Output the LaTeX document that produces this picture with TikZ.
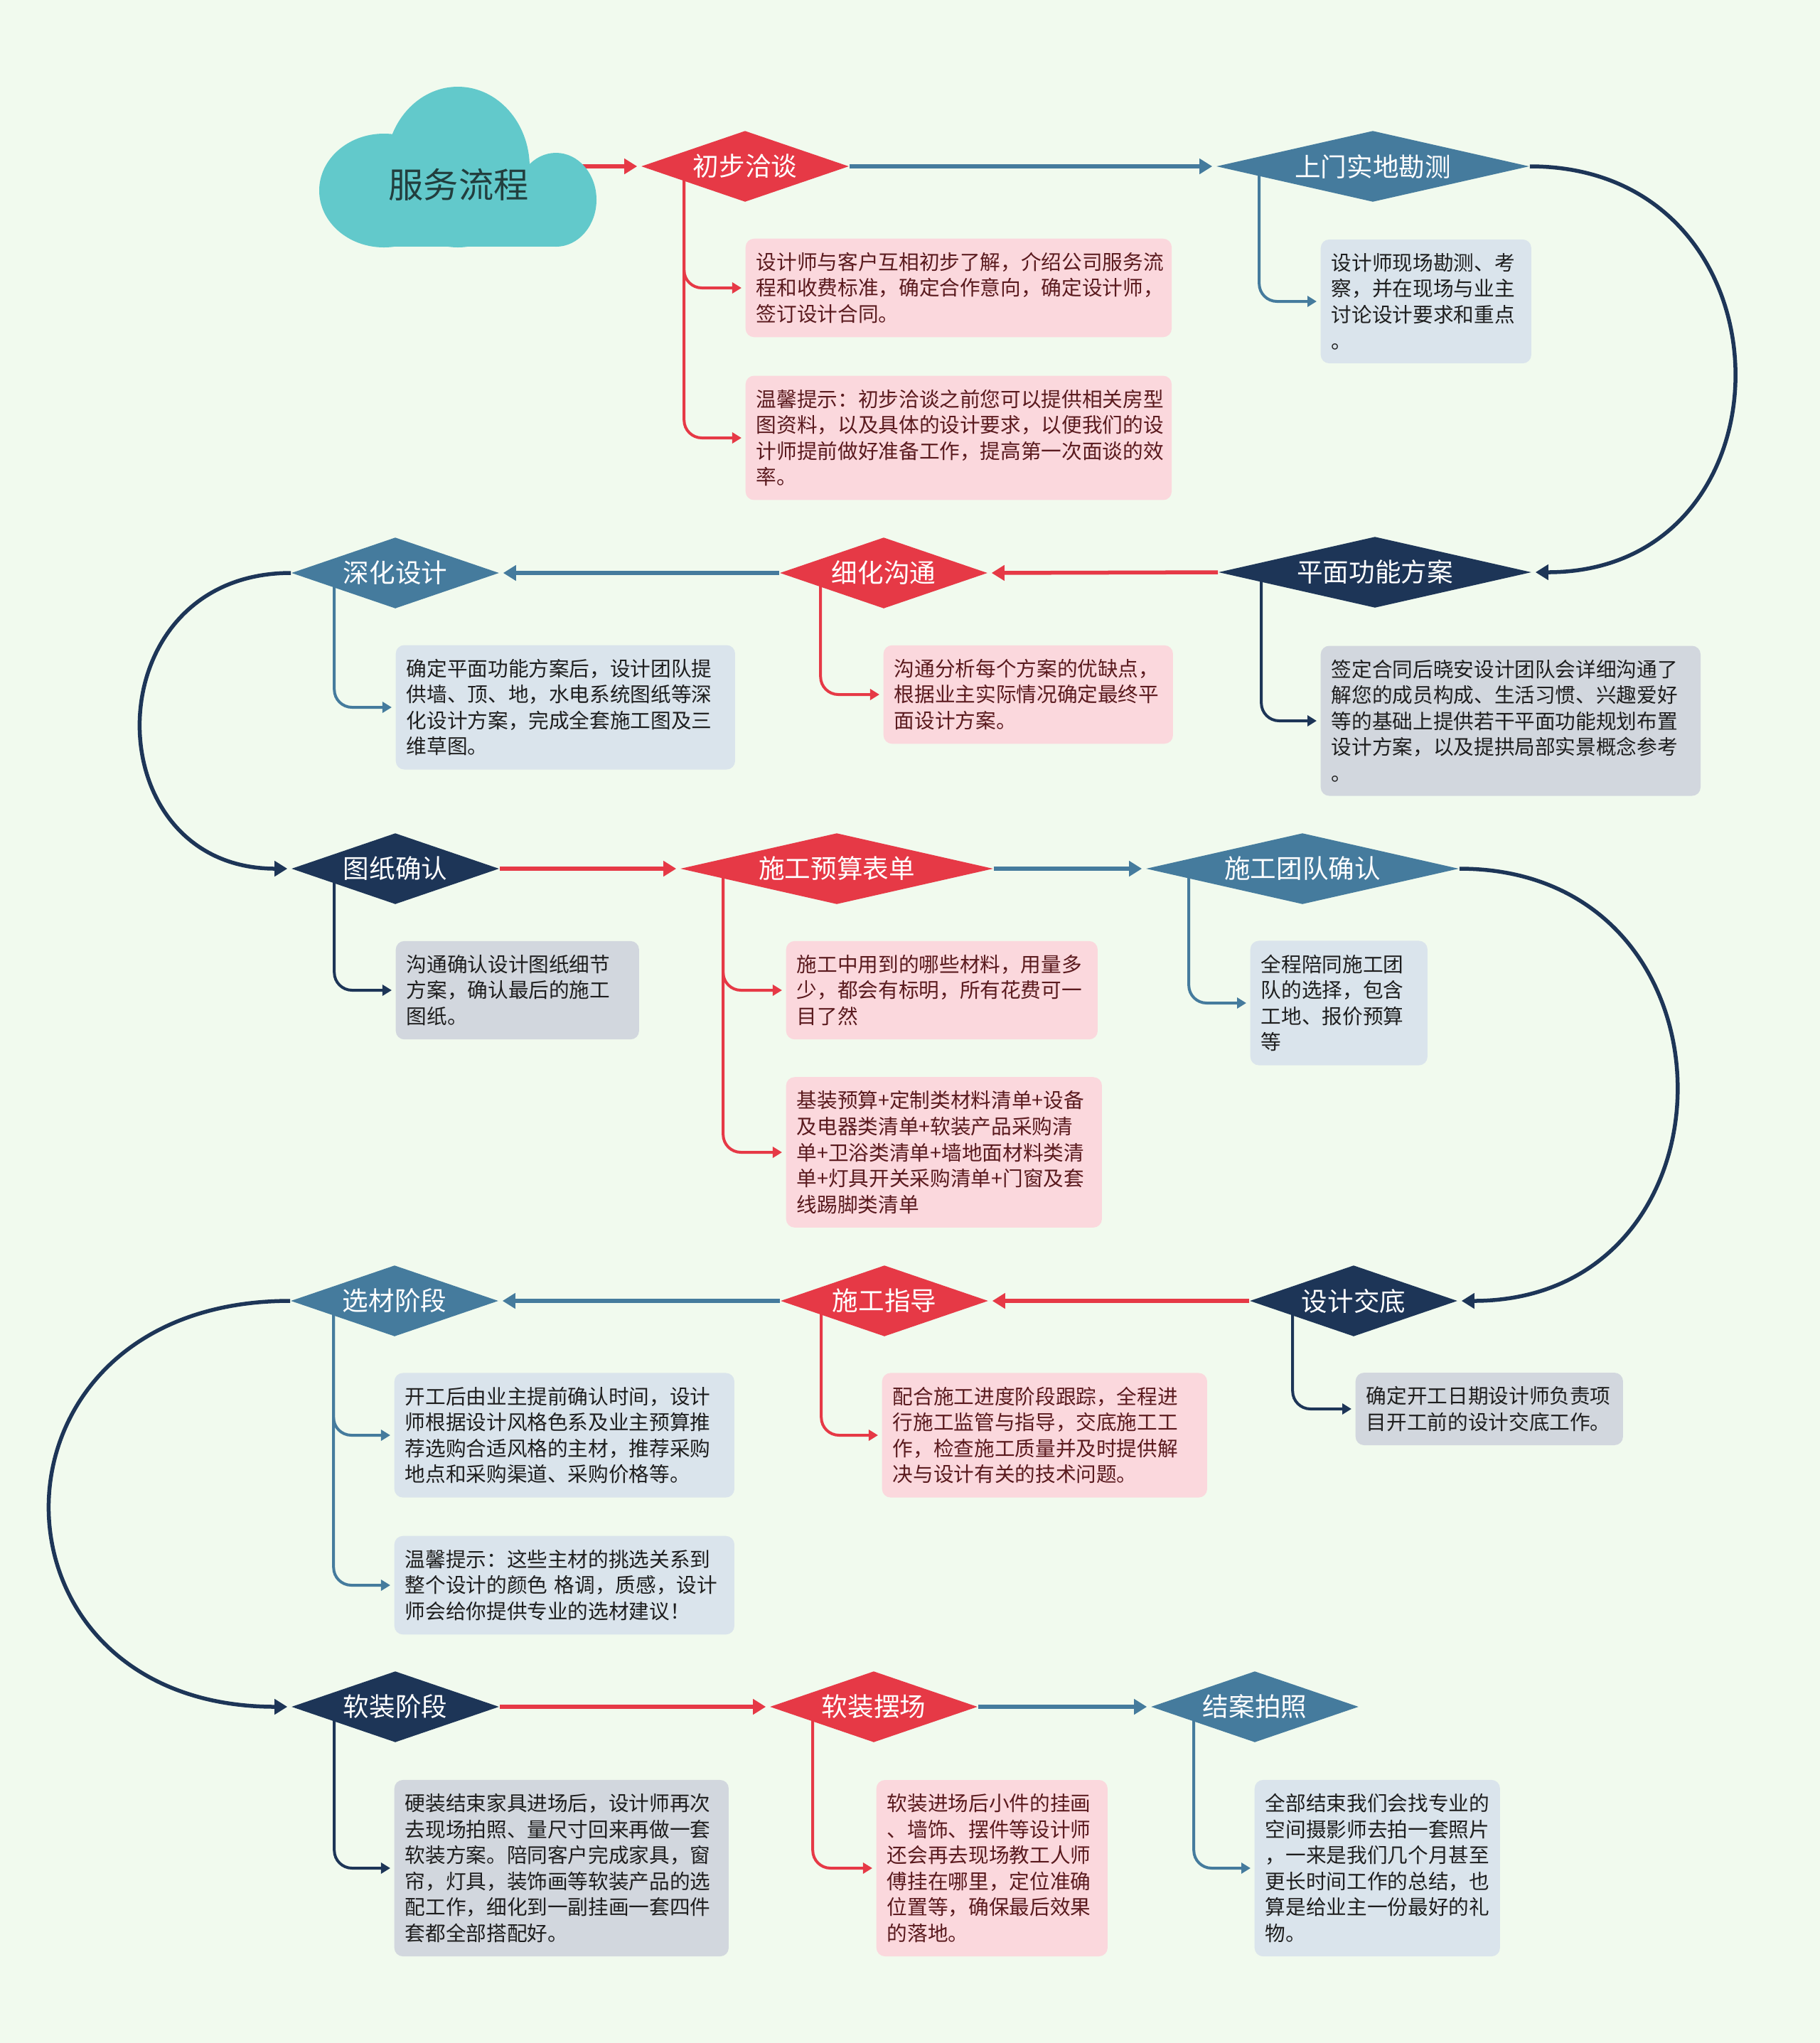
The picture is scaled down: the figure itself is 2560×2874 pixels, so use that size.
\documentclass[tikz,border=0pt]{standalone}
\usepackage{fontspec}
\newfontfamily\cjk{Noto Sans CJK SC}
\usetikzlibrary{shapes.geometric, arrows.meta, calc}
\definecolor{bgmint}{HTML}{F1FAEE}
\definecolor{stagered}{HTML}{E63946}
\definecolor{stageblue}{HTML}{457B9D}
\definecolor{stagenavy}{HTML}{1D3557}
\definecolor{cloudteal}{HTML}{62C9CB}
\definecolor{notepink}{HTML}{FBD8DD}
\definecolor{noteblue}{HTML}{DAE4EC}
\definecolor{notegrey}{HTML}{D2D7DE}
\definecolor{textred}{HTML}{5A1A1E}
\definecolor{textdark}{HTML}{1E1E1E}
\definecolor{cloudtext}{HTML}{223E3E}
\pgfdeclarelayer{back}
\pgfdeclarelayer{links}
\pgfsetlayers{back,links,main}

\begin{document}
\begin{tikzpicture}[
    x=0.01cm, y=-0.01cm,
    stage/.style={diamond, shape aspect=4, inner sep=0pt, minimum height=1cm, minimum width=2.92cm, text=white, font=\cjk\fontsize{10.4}{12}\selectfont},
    wide/.style={minimum width=4.4cm},
    redstage/.style={stage, fill=stagered},
    bluestage/.style={stage, fill=stageblue},
    navystage/.style={stage, fill=stagenavy},
    note/.style={rounded corners=1.2mm, inner xsep=0.15cm, inner ysep=5.5pt, align=left, anchor=west, font=\cjk\fontsize{8.15}{10.4}\selectfont},
    rednote/.style={note, fill=notepink, text=textred},
    bluenote/.style={note, fill=noteblue, text=textdark},
    navynote/.style={note, fill=notegrey, text=textdark},
    flow/.style={-{Triangle[length=1.8mm, width=2.1mm]}, line width=0.55mm, shorten >=0.5mm},
    branch/.style={-{Triangle[length=1.3mm, width=1.5mm]}, line width=0.4mm, rounded corners=2.5mm, shorten >=0.5mm}
]
\useasboundingbox (0,0) rectangle (2560,2874);
\begin{pgfonlayer}{back}
\fill[bgmint] (0,0) rectangle (2560,2874);
\end{pgfonlayer}

\fill[cloudteal] (540,268) ellipse [x radius=91, y radius=80];
\fill[cloudteal] (644,235) ellipse [x radius=101, y radius=113];
\fill[cloudteal] (782,281) ellipse [x radius=57, y radius=66];
\fill[cloudteal] (540,250) rectangle (782,347);
\node[font=\cjk\fontsize{14}{16}\selectfont, text=cloudtext] (cloud) at (645,260) {服务流程};
\coordinate (cloudout) at (800,234);

\node[redstage] (talk) at (1048,234) {初步洽谈};
\node[bluestage, wide] (survey) at (1931,234) {上门实地勘测};
\node[navystage, wide] (plan) at (1934,805) {平面功能方案};
\node[redstage] (refine) at (1243,806) {细化沟通};
\node[bluestage] (deepen) at (556,806) {深化设计};
\node[navystage] (drawing) at (556,1222) {图纸确认};
\node[redstage, wide] (budget) at (1177,1222) {施工预算表单};
\node[bluestage, wide] (team) at (1832,1222) {施工团队确认};
\node[navystage] (brief) at (1904,1830) {设计交底};
\node[redstage] (guide) at (1244,1830) {施工指导};
\node[bluestage] (material) at (555,1830) {选材阶段};
\node[navystage] (soft) at (556,2401) {软装阶段};
\node[redstage] (place) at (1229,2401) {软装摆场};
\node[bluestage] (photo) at (1765,2401) {结案拍照};

\node[rednote, text width=5.69cm] (talk1) at (1048,405) {设计师与客户互相初步了解，介绍公司服务流\\程和收费标准，确定合作意向，确定设计师，\\签订设计合同。};
\node[rednote, text width=5.69cm] (talk2) at (1048,616) {温馨提示：初步洽谈之前您可以提供相关房型\\图资料，以及具体的设计要求，以便我们的设\\计师提前做好准备工作，提高第一次面谈的效\\率。};
\node[bluenote, text width=2.66cm] (survey1) at (1857,424) {设计师现场勘测、考\\察，并在现场与业主\\讨论设计要求和重点\\。};
\node[navynote, text width=5.04cm] (plan1) at (1857,1014) {签定合同后晓安设计团队会详细沟通了\\解您的成员构成、生活习惯、兴趣爱好\\等的基础上提供若干平面功能规划布置\\设计方案，以及提拱局部实景概念参考\\。};
\node[rednote, text width=3.77cm] (refine1) at (1242,977) {沟通分析每个方案的优缺点，\\根据业主实际情况确定最终平\\面设计方案。};
\node[bluenote, text width=4.47cm] (deepen1) at (556,995) {确定平面功能方案后，设计团队提\\供墙、顶、地，水电系统图纸等深\\化设计方案，完成全套施工图及三\\维草图。};
\node[navynote, text width=3.12cm] (drawing1) at (556,1393) {沟通确认设计图纸细节\\方案，确认最后的施工\\图纸。};
\node[rednote, text width=4.08cm] (budget1) at (1105,1393) {施工中用到的哪些材料，用量多\\少，都会有标明，所有花费可一\\目了然};
\node[rednote, text width=4.14cm] (budget2) at (1105,1621) {基装预算+定制类材料清单+设备\\及电器类清单+软装产品采购清\\单+卫浴类清单+墙地面材料类清\\单+灯具开关采购清单+门窗及套\\线踢脚类清单};
\node[bluenote, text width=2.19cm] (team1) at (1758,1411) {全程陪同施工团\\队的选择，包含\\工地、报价预算\\等};
\node[navynote, text width=3.46cm] (brief1) at (1906,1982) {确定开工日期设计师负责项\\目开工前的设计交底工作。};
\node[rednote, text width=4.27cm] (guide1) at (1240,2019) {配合施工进度阶段跟踪，全程进\\行施工监管与指导，交底施工工\\作，检查施工质量并及时提供解\\决与设计有关的技术问题。};
\node[bluenote, text width=4.48cm] (material1) at (554,2019) {开工后由业主提前确认时间，设计\\师根据设计风格色系及业主预算推\\荐选购合适风格的主材，推荐采购\\地点和采购渠道、采购价格等。};
\node[bluenote, text width=4.48cm] (material2) at (554,2230) {温馨提示：这些主材的挑选关系到\\整个设计的颜色 格调，质感，设计\\师会给你提供专业的选材建议！};
\node[navynote, text width=4.40cm] (soft1) at (554,2628) {硬装结束家具进场后，设计师再次\\去现场拍照、量尺寸回来再做一套\\软装方案。陪同客户完成家具，窗\\帘，灯具，装饰画等软装产品的选\\配工作，细化到一副挂画一套四件\\套都全部搭配好。};
\node[rednote, text width=2.95cm] (place1) at (1232,2628) {软装进场后小件的挂画\\、墙饰、摆件等设计师\\还会再去现场教工人师\\傅挂在哪里，定位准确\\位置等，确保最后效果\\的落地。};
\node[bluenote, text width=3.15cm] (photo1) at (1764,2628) {全部结束我们会找专业的\\空间摄影师去拍一套照片\\，一来是我们几个月甚至\\更长时间工作的总结，也\\算是给业主一份最好的礼\\物。};

\begin{pgfonlayer}{links}
\draw[flow, stagered] (cloudout) -- (talk.west);
\draw[flow, stageblue] (talk.east) -- (survey.west);
\draw[flow, stagenavy] (survey.east) .. controls +(380,0) and +(380,0) .. (plan.east);
\draw[flow, stagered] (plan.west) -- (refine.east);
\draw[flow, stageblue] (refine.west) -- (deepen.east);
\draw[flow, stagenavy] (deepen.west) .. controls +(-280,0) and +(-280,0) .. (drawing.west);
\draw[flow, stagered] (drawing.east) -- (budget.west);
\draw[flow, stageblue] (budget.east) -- (team.west);
\draw[flow, stagenavy] (team.east) .. controls +(407,0) and +(407,0) .. (brief.east);
\draw[flow, stagered] (brief.west) -- (guide.east);
\draw[flow, stageblue] (guide.west) -- (material.east);
\draw[flow, stagenavy] (material.west) .. controls +(-450,0) and +(-450,0) .. (soft.west);
\draw[flow, stagered] (soft.east) -- (place.west);
\draw[flow, stageblue] (place.east) -- (photo.west);

\draw[branch, stagered] ($(talk.west)+(61,0)$) |- (talk1.west);
\draw[branch, stagered] ($(talk.west)+(61,0)$) |- (talk2.west);
\draw[branch, stageblue] ($(survey.west)+(61,0)$) |- (survey1.west);
\draw[branch, stagenavy] ($(plan.west)+(61,0)$) |- (plan1.west);
\draw[branch, stagered] ($(refine.west)+(58,0)$) |- (refine1.west);
\draw[branch, stageblue] ($(deepen.west)+(61,0)$) |- (deepen1.west);
\draw[branch, stagenavy] ($(drawing.west)+(61,0)$) |- (drawing1.west);
\draw[branch, stagered] ($(budget.west)+(61,0)$) |- (budget1.west);
\draw[branch, stagered] ($(budget.west)+(61,0)$) |- (budget2.west);
\draw[branch, stageblue] ($(team.west)+(61,0)$) |- (team1.west);
\draw[branch, stagenavy] ($(brief.west)+(61,0)$) |- (brief1.west);
\draw[branch, stagered] ($(guide.west)+(58,0)$) |- (guide1.west);
\draw[branch, stageblue] ($(material.west)+(61,0)$) |- (material1.west);
\draw[branch, stageblue] ($(material.west)+(61,0)$) |- (material2.west);
\draw[branch, stagenavy] ($(soft.west)+(61,0)$) |- (soft1.west);
\draw[branch, stagered] ($(place.west)+(61,0)$) |- (place1.west);
\draw[branch, stageblue] ($(photo.west)+(61,0)$) |- (photo1.west);
\end{pgfonlayer}
\end{tikzpicture}
\end{document}
